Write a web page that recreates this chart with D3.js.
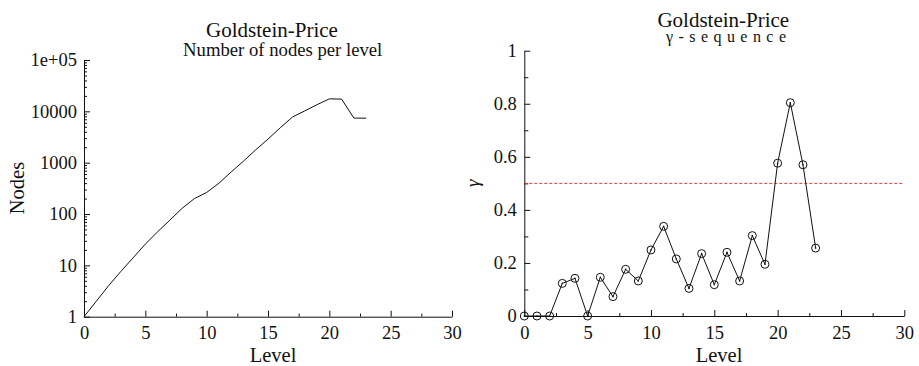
<!DOCTYPE html>
<html>
<head>
<meta charset="utf-8">
<title></title>
<script src="https://d3js.org/d3.v7.min.js"></script>
<style>
  body { margin: 0; background: #fff; }
  .axis path, .axis line { stroke: #111; stroke-width: 1; }
</style>
</head>
<body>
<svg id="chart" width="919" height="366"></svg>
<script>
// data
var levels = d3.range(0, 24);
var nodes = [1, 2, 4, 7.6, 14, 26, 45, 76, 129, 200, 263, 398, 660, 1070, 1780, 2880, 4790, 7760, 10200, 13500, 17500, 17300, 7400, 7350];
var gamma = [0, 0, 0, 0.123, 0.142, 0, 0.146, 0.073, 0.176, 0.132, 0.249, 0.338, 0.215, 0.104,
             0.235, 0.118, 0.240, 0.132, 0.303, 0.195, 0.576, 0.804, 0.570, 0.256];
var gammaRef = 0.5;

var xMajor = [0, 5, 10, 15, 20, 25, 30];
var xMinor = [2.5, 7.5, 12.5, 17.5, 22.5, 27.5];
var logMajor = [1, 10, 100, 1000, 10000, 100000];
var logLabels = ["1", "10", "100", "1000", "10000", "1e+05"];
var gMajor = [0, 0.2, 0.4, 0.6, 0.8, 1];
var gLabels = ["0", "0.2", "0.4", "0.6", "0.8", "1"];
var gMinor = [0.1, 0.3, 0.5, 0.7, 0.9];

var serif = "'Liberation Serif', 'Times New Roman', 'DejaVu Serif', serif";
var svg = d3.select("#chart");
var tickFont = "18.5px";

// scales
var xL = d3.scaleLinear().domain([0, 30]).range([84, 452]);
var yL = d3.scaleLog().domain([1, 1e5]).range([316.7, 60]);
var xR = d3.scaleLinear().domain([0, 30]).range([524.3, 904.3]);
var yR = d3.scaleLinear().domain([0, 1]).range([316, 50.7]);

// log minor ticks: 2..9 per decade
var logMinor = [];
logMajor.slice(0, 5).forEach(function(d) {
  for (var k = 2; k <= 9; k++) logMinor.push(d * k);
});

function styleTicks(g) {
  g.attr("font-family", serif);
  g.selectAll("text").style("font-size", tickFont).style("font-family", serif).attr("fill", "#111");
}

function label(x, y, size, txt) {
  return svg.append("text").attr("x", x).attr("y", y).attr("text-anchor", "middle")
    .style("font-family", serif).style("font-size", size).attr("fill", "#111").text(txt);
}

function xAxes(x, y0) {
  svg.append("g").attr("class", "axis")
    .attr("transform", "translate(0," + y0 + ")")
    .call(d3.axisBottom(x).tickValues(xMajor).tickSize(-6).tickSizeOuter(0).tickPadding(9.5))
    .call(styleTicks);
  svg.append("g").attr("class", "axis")
    .attr("transform", "translate(0," + y0 + ")")
    .call(d3.axisBottom(x).tickValues(xMinor).tickSize(-3).tickSizeOuter(0).tickFormat(""))
    .call(function(g) { g.select(".domain").remove(); });
}

// ---- left: nodes per level
xAxes(xL, 316.7);
svg.append("g").attr("class", "axis")
  .attr("transform", "translate(84,0)")
  .call(d3.axisLeft(yL).tickValues(logMajor).tickSize(-6).tickSizeOuter(0).tickPadding(7)
    .tickFormat(function(d, i) { return logLabels[i]; }))
  .call(styleTicks);
svg.append("g").attr("class", "axis")
  .attr("transform", "translate(84,0)")
  .call(d3.axisLeft(yL).tickValues(logMinor).tickSize(-3).tickSizeOuter(0).tickFormat(""))
  .call(function(g) { g.select(".domain").remove(); });

svg.append("path")
  .datum(levels)
  .attr("fill", "none")
  .attr("stroke", "#111")
  .attr("stroke-width", 1)
  .attr("d", d3.line().x(function(d) { return xL(d); }).y(function(d) { return yL(nodes[d]); }));

label(272, 37.3, "21px", "Goldstein-Price");
label(282.7, 56, "18.7px", "Number of nodes per level");
label(273, 362, "20.5px", "Level");
svg.append("text").attr("transform", "translate(24,188) rotate(-90)").attr("text-anchor", "middle")
  .style("font-family", serif).style("font-size", "20.5px").attr("fill", "#111").text("Nodes");

// ---- right: gamma sequence
xAxes(xR, 316);
svg.append("g").attr("class", "axis")
  .attr("transform", "translate(524.3,0)")
  .call(d3.axisLeft(yR).tickValues(gMajor).tickSize(-6).tickSizeOuter(0).tickPadding(7.5)
    .tickFormat(function(d, i) { return gLabels[i]; }))
  .call(styleTicks);
svg.append("g").attr("class", "axis")
  .attr("transform", "translate(524.3,0)")
  .call(d3.axisLeft(yR).tickValues(gMinor).tickSize(-4).tickSizeOuter(0).tickFormat(""))
  .call(function(g) { g.select(".domain").remove(); });

svg.append("line")
  .attr("x1", xR(0)).attr("x2", xR(30))
  .attr("y1", yR(gammaRef)).attr("y2", yR(gammaRef))
  .attr("stroke", "#d03a3a").attr("stroke-width", 1).attr("stroke-dasharray", "3,2");

svg.append("path")
  .datum(levels)
  .attr("fill", "none")
  .attr("stroke", "#111")
  .attr("stroke-width", 1)
  .attr("d", d3.line().x(function(d) { return xR(d); }).y(function(d) { return yR(gamma[d]); }));

svg.selectAll("circle.pt")
  .data(levels)
  .enter().append("circle")
  .attr("class", "pt")
  .attr("cx", function(d) { return xR(d); })
  .attr("cy", function(d) { return yR(gamma[d]); })
  .attr("r", 4)
  .attr("fill", "none")
  .attr("stroke", "#111")
  .attr("stroke-width", 1);

svg.selectAll("circle.dot")
  .data(levels)
  .enter().append("circle")
  .attr("class", "dot")
  .attr("cx", function(d) { return xR(d); })
  .attr("cy", function(d) { return yR(gamma[d]); })
  .attr("r", 0.8)
  .attr("fill", "#111");

label(723.3, 26.7, "21px", "Goldstein-Price");
svg.append("text").attr("x", 666).attr("y", 42.3)
  .attr("textLength", 120).attr("lengthAdjust", "spacing")
  .style("font-family", serif).style("font-size", "16px").attr("fill", "#111").text("γ-sequence");
label(719, 362, "20.5px", "Level");
svg.append("text").attr("transform", "translate(479,183.3) rotate(-90)").attr("text-anchor", "middle")
  .style("font-family", serif).style("font-size", "19px").style("font-style", "italic")
  .attr("fill", "#111").text("γ");
</script>
</body>
</html>
